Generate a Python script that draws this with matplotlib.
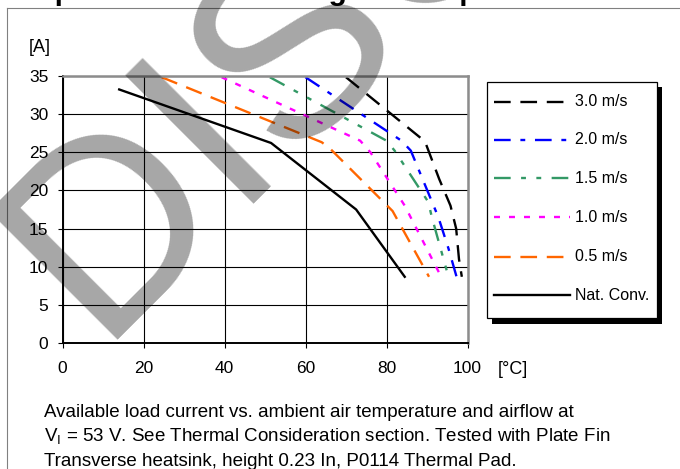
import matplotlib
matplotlib.use("Agg")
import matplotlib.pyplot as plt
from matplotlib.lines import Line2D
from matplotlib.patches import Rectangle

plt.rcParams["font.family"] = ["Liberation Sans", "DejaVu Sans"]
plt.rcParams["mathtext.fontset"] = "custom"
plt.rcParams["mathtext.rm"] = "Liberation Sans"
plt.rcParams["lines.scale_dashes"] = False

# derating curves: ambient temp [°C] vs current [A]
temp_30 = [70, 89.5, 90.5, 93, 95.8, 97.2, 97.9, 98.6]
curr_30 = [34.8, 26.4, 25.0, 21.5, 18.0, 15.0, 11.0, 8.7]
temp_20 = [60, 83.7, 86, 92.8, 95.3, 97.3]
curr_20 = [34.8, 26.5, 25.2, 16.5, 12.4, 8.7]
temp_15 = [51.2, 80, 82, 90.3, 91.2, 93.3, 95.3]
curr_15 = [34.8, 26.5, 25.2, 18.5, 16.5, 12.5, 8.7]
temp_10 = [39.3, 73.5, 76, 84.5, 93.5]
curr_10 = [34.8, 26.5, 25.0, 18.0, 8.7]
temp_05 = [24.5, 64, 66, 81.5, 90.5]
curr_05 = [34.8, 26.3, 25.5, 17.3, 8.7]
temp_nat = [14, 51.5, 72.5, 84.5]
curr_nat = [33.2, 26.2, 17.5, 8.7]

labels = ["3.0 m/s", "2.0 m/s", "1.5 m/s", "1.0 m/s", "0.5 m/s", "Nat. Conv."]
x_ticks = [0, 20, 40, 60, 80, 100]
y_ticks = [0, 5, 10, 15, 20, 25, 30, 35]

series = [
    (temp_30, curr_30, "black", (0, (12, 7))),
    (temp_20, curr_20, "#0000ff", (0, (12, 7, 3.5, 7))),
    (temp_15, curr_15, "#339966", (0, (12, 7.5, 3.5, 7.5, 3.5, 7.5))),
    (temp_10, curr_10, "#ff00ff", (0, (4.3, 6.5))),
    (temp_05, curr_05, "#ff6600", (0, (12, 7))),
    (temp_nat, curr_nat, "black", "-"),
]

W, H = 680, 469
fig = plt.figure(figsize=(W / 100, H / 100), dpi=100)
ax = fig.add_axes([62.5 / W, 1 - 343.3 / H, 405 / W, 267.6 / H])

lw = 1.7
for (xs, ys, col, ls), lab in zip(series, labels):
    ax.plot(xs, ys, color=col, lw=lw, ls=ls, label=lab)

ax.set_xlim(0, 100)
ax.set_ylim(0, 35)
ax.set_xticks(x_ticks)
ax.set_yticks(y_ticks)
ax.grid(True, color="black", lw=0.8)
ax.set_axisbelow(True)
ax.tick_params(labelsize=12.5, length=3.6, width=0.8, color="black")
ax.tick_params(axis="y", pad=6.5)
ax.tick_params(axis="x", pad=9)
for s in ["top", "right"]:
    ax.spines[s].set_color("#8c8c8c")
    ax.spines[s].set_linewidth(1.8)
for s in ["left", "bottom"]:
    ax.spines[s].set_color("black")
    ax.spines[s].set_linewidth(1.4)

fig.text(40 / W, 1 - 47 / H, "[A]", fontsize=13, ha="center", va="center")
fig.text(513 / W, 1 - 369 / H, "[°C]", fontsize=13, ha="center", va="center")

# legend box with hard black shadow
bx, by, bw, bh = 486.7, 81.7, 170, 236.3
fig.add_artist(Rectangle(((bx + 5.5) / W, 1 - (by + bh + 5.5) / H), bw / W, bh / H,
                         facecolor="black", edgecolor="none"))
fig.add_artist(Rectangle((bx / W, 1 - (by + bh) / H), bw / W, bh / H,
                         facecolor="white", edgecolor="black", lw=0.9))
row_y = [101.7, 140, 178.3, 217, 256.7, 295]
for (xs, ys, col, ls), lab, ry in zip(series, labels, row_y):
    fig.add_artist(Line2D([494 / W, 569.5 / W], [1 - ry / H] * 2,
                          color=col, lw=lw, ls=ls))
    fig.text(575 / W, 1 - ry / H, lab, fontsize=11.5, va="center")

# caption under the chart
cap = 13.5
fig.text(44 / W, 1 - 417 / H,
         "Available load current vs. ambient air temperature and airflow at",
         fontsize=cap, va="baseline")
fig.text(44 / W, 1 - 441.5 / H,
         r"V$_\mathrm{I}$ = 53 V. See Thermal Consideration section. Tested with Plate Fin",
         fontsize=cap, va="baseline")
fig.text(44 / W, 1 - 466 / H,
         "Transverse heatsink, height 0.23 In, P0114 Thermal Pad.",
         fontsize=cap, va="baseline")

# heading, cut off at the top edge
fig.text(3 / W, 1.0, "Output Current Derating \u2013 Base plate",
         fontsize=21.5, fontweight="bold", va="baseline")

# thin page frame
fig.add_artist(Line2D([6.5 / W, 1], [1 - 8.5 / H, 1 - 8.5 / H], color="#808080", lw=0.8))
fig.add_artist(Line2D([7 / W, 7 / W], [0, 1 - 8.5 / H], color="#808080", lw=0.8))

# watermark
fig.text(96 / W, 1 - 340 / H, "DISCONTINUED", fontsize=190, rotation=45,
         rotation_mode="anchor", ha="left", va="baseline",
         color="black", alpha=0.35, zorder=10)

fig.savefig("out.png", dpi=100)
